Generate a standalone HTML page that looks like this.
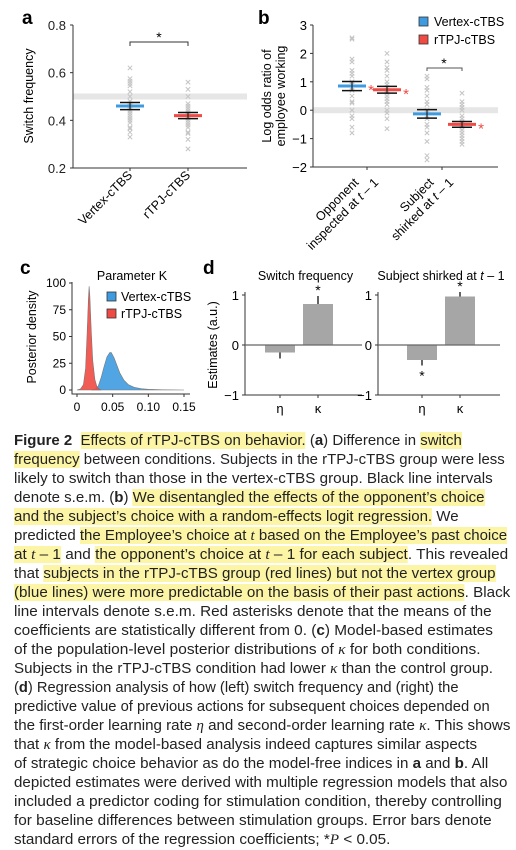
<!DOCTYPE html>
<html><head><meta charset="utf-8">
<style>
html,body{margin:0;padding:0;background:#fff;width:516px;height:848px;overflow:hidden}
svg text{font-family:"Liberation Sans",sans-serif}
#cap{position:absolute;left:0;top:0;width:516px}
.ln{position:absolute;left:14px;white-space:nowrap;font-family:"Liberation Sans",sans-serif;font-size:15px;line-height:19px;color:#222;transform-origin:0 50%}
.hl{background:#fdf5a6}
i{font-family:"Liberation Serif",serif}
</style></head><body>
<svg id="fig" width="516" height="425" style="position:absolute;left:0;top:0" xmlns="http://www.w3.org/2000/svg"></svg>
<div id="cap">
<div class="ln" data-w="448" style="top:431px"><b>Figure 2</b>&nbsp; <span class="hl">Effects of rTPJ-cTBS on behavior.</span> (<b>a</b>) Difference in <span class="hl">switch</span></div>
<div class="ln" data-w="491" style="top:450px"><span class="hl">frequency</span> between conditions. Subjects in the rTPJ-cTBS group were less</div>
<div class="ln" data-w="479" style="top:469px">likely to switch than those in the vertex-cTBS group. Black line intervals</div>
<div class="ln" data-w="471" style="top:488px">denote s.e.m. (<b>b</b>) <span class="hl">We disentangled the effects of the opponent’s choice</span></div>
<div class="ln" data-w="445" style="top:507px"><span class="hl">and the subject’s choice with a random-effects logit regression.</span> We</div>
<div class="ln" data-w="493" style="top:526px">predicted <span class="hl">the Employee’s choice at <i>t</i> based on the Employee’s past choice</span></div>
<div class="ln" data-w="494" style="top:545px"><span class="hl">at <i>t</i> – 1</span> and <span class="hl">the opponent’s choice at <i>t</i> – 1 for each subject</span>. This revealed</div>
<div class="ln" data-w="482" style="top:564px">that <span class="hl">subjects in the rTPJ-cTBS group (red lines) but not the vertex group</span></div>
<div class="ln" data-w="496" style="top:583px"><span class="hl">(blue lines) were more predictable on the basis of their past actions</span>. Black</div>
<div class="ln" data-w="478" style="top:602px">line intervals denote s.e.m. Red asterisks denote that the means of the</div>
<div class="ln" data-w="479" style="top:621px">coefficients are statistically different from 0. (<b>c</b>) Model-based estimates</div>
<div class="ln" data-w="466" style="top:640px">of the population-level posterior distributions of <i>κ</i> for both conditions.</div>
<div class="ln" data-w="479" style="top:659px">Subjects in the rTPJ-cTBS condition had lower <i>κ</i> than the control group.</div>
<div class="ln" data-w="445" style="top:678px">(<b>d</b>) Regression analysis of how (left) switch frequency and (right) the</div>
<div class="ln" data-w="476" style="top:697px">predictive value of previous actions for subsequent choices depended on</div>
<div class="ln" data-w="496" style="top:716px">the first-order learning rate <i>η</i> and second-order learning rate <i>κ</i>. This shows</div>
<div class="ln" data-w="463" style="top:735px">that <i>κ</i> from the model-based analysis indeed captures similar aspects</div>
<div class="ln" data-w="474" style="top:754px">of strategic choice behavior as do the model-free indices in <b>a</b> and <b>b</b>. All</div>
<div class="ln" data-w="493" style="top:773px">depicted estimates were derived with multiple regression models that also</div>
<div class="ln" data-w="488" style="top:792px">included a predictor coding for stimulation condition, thereby controlling</div>
<div class="ln" data-w="478" style="top:811px">for baseline differences between stimulation groups. Error bars denote</div>
<div class="ln" data-w="376" style="top:830px">standard errors of the regression coefficients; *<i>P</i> &lt; 0.05.</div>
</div>
<script>
// ---- Panel a data ----
const aCategories=["Vertex-cTBS","rTPJ-cTBS"];
const aMeans=[0.46,0.42];
const aSem=[0.015,0.013];
const aVertexPoints=[0.62,0.575,0.565,0.555,0.545,0.52,0.5,0.48,0.47,0.46,0.45,0.44,0.43,0.42,0.41,0.40,0.39,0.37,0.365,0.35,0.33];
const aRtpjPoints=[0.56,0.53,0.5,0.47,0.46,0.45,0.44,0.43,0.42,0.41,0.40,0.39,0.38,0.37,0.35,0.345,0.32,0.28];
const aTicks=[0.2,0.4,0.6,0.8];
// ---- Panel b data ----
const bCategories=["Opponent|inspected at t – 1","Subject|shirked at t – 1"];
const bVertexMeans=[0.85,-0.13];
const bRtpjMeans=[0.72,-0.5];
const bVertexSem=[0.16,0.15];
const bRtpjSem=[0.12,0.1];
const bVertexPts1=[2.55,2.5,1.8,1.7,1.4,1.3,1.2,1.0,0.9,0.8,0.7,0.5,0.3,0.25,0.0,-0.2,-0.3,-0.6,-0.8];
const bRtpjPts1=[2.0,1.7,1.5,1.4,1.2,1.0,0.9,0.8,0.7,0.6,0.5,0.4,0.3,0.2,0.0,-0.1,-0.3,-0.65];
const bVertexPts2=[1.2,1.1,0.8,0.7,0.5,0.3,0.2,0.0,-0.1,-0.2,-0.3,-0.5,-0.6,-0.8,-1.1,-1.6,-1.75];
const bRtpjPts2=[0.6,0.3,0.2,0.1,0.0,-0.2,-0.3,-0.4,-0.5,-0.6,-0.7,-0.8,-0.9,-1.0,-1.1,-1.2];
const bTicks=[-2,-1,0,1,2,3];
// ---- Panel c data ----
const cRedX=[0.0,0.005,0.009,0.012,0.014,0.016,0.017,0.018,0.02,0.022,0.025,0.028,0.031,0.034];
const cRedY=[0,1,5,20,50,85,97,88,55,28,10,3,1,0];
const cBlueX=[0.02,0.026,0.03,0.034,0.038,0.042,0.046,0.048,0.052,0.056,0.06,0.066,0.072,0.08,0.09,0.1,0.12,0.15];
const cBlueY=[0,1,4,12,22,31,35,35,30,23,16,9,5,2.5,1.2,0.6,0.2,0];
const cTicksX=[0,0.05,0.10,0.15];
const cTicksXLabels=["0","0.05","0.10","0.15"];
const cTicksY=[0,25,50,75,100];
// ---- Panel d data ----
const dParams=["η","κ"];
const dSwitchEst=[-0.15,0.82];
const dSwitchErr=[0.12,0.16];
const dShirkEst=[-0.3,0.97];
const dShirkErr=[0.11,0.09];
const dSwitchSig=[false,true];
const dShirkSig=[true,true];
const dTicks=[-1,0,1];

const svg=document.getElementById('fig');
const NS="http://www.w3.org/2000/svg";
function mk(tag,attrs,parent){const e=document.createElementNS(NS,tag);for(const k in attrs)e.setAttribute(k,attrs[k]);(parent||svg).appendChild(e);return e;}
function txt(s,attrs,parent){const e=mk('text',attrs,parent);e.textContent=s;return e;}
function cross(x,y,g){mk('path',{d:`M${x-2.2},${y-2.2}L${x+2.2},${y+2.2}M${x-2.2},${y+2.2}L${x+2.2},${y-2.2}`,stroke:'#c4c4c4','stroke-width':1},g);}
const BLUE='#3f9be0',RED='#ef4a43';

// ===== Panel a =====
let g=mk('g',{});


let t=txt('a',{x:22,y:24,'font-size':19,'font-weight':'bold'},g);

const ay=v=>168-(v-0.2)/0.6*143;
const ax=[130,188];
mk('rect',{x:73,y:ay(0.5)-3,width:174,height:6,fill:'#e6e6e6'},g);
mk('path',{d:'M73,25L73,168L247,168',stroke:'#333',fill:'none','stroke-width':1},g);
aTicks.forEach(v=>{mk('line',{x1:70,x2:73,y1:ay(v),y2:ay(v),stroke:'#333'},g);
 const l=txt(v.toFixed(1),{x:66,y:ay(v)+5,'font-size':13,'text-anchor':'end',fill:'#222'},g);
 });
const ayl=txt('Switch frequency',{transform:'translate(33,96) rotate(-90)','font-size':12.5,'text-anchor':'middle'},g);

[aVertexPoints,aRtpjPoints].forEach((pts,i)=>{pts.forEach(v=>cross(ax[i],ay(v),g));});
aCategories.forEach((c,i)=>{
 mk('line',{x1:ax[i],x2:ax[i],y1:168,y2:171,stroke:'#333'},g);
 const l=txt(c,{transform:`translate(${ax[i]+3},176) rotate(-45)`,'font-size':12.5,'text-anchor':'end'},g);
 
 const col=i==0?BLUE:RED;
 const m=mk('line',{x1:ax[i]-14,x2:ax[i]+14,y1:ay(aMeans[i]),y2:ay(aMeans[i]),stroke:col,'stroke-width':3},g);
 
 [aMeans[i]-aSem[i],aMeans[i]+aSem[i]].forEach(v=>mk('line',{x1:ax[i]-10,x2:ax[i]+10,y1:ay(v),y2:ay(v),stroke:'#111','stroke-width':1.5},g));
 mk('line',{x1:ax[i],x2:ax[i],y1:ay(aMeans[i]-aSem[i]),y2:ay(aMeans[i]+aSem[i]),stroke:'#111','stroke-width':1},g);
});
mk('path',{d:`M${ax[0]},46L${ax[0]},42L${ax[1]},42L${ax[1]},46`,stroke:'#333',fill:'none'},g);
txt('*',{x:(ax[0]+ax[1])/2,y:42,'font-size':14,'text-anchor':'middle'},g);

// ===== Panel b =====
g=mk('g',{});


t=txt('b',{x:258,y:24,'font-size':19,'font-weight':'bold'},g);

const by=v=>167-(v+2)/5*142;
const bx=[367,442];
const bOff=[-15,20];
mk('rect',{x:313,y:by(0)-3,width:185,height:6,fill:'#e6e6e6'},g);
mk('path',{d:'M313,25L313,167L498,167',stroke:'#333',fill:'none'},g);
bTicks.forEach(v=>{mk('line',{x1:310,x2:313,y1:by(v),y2:by(v),stroke:'#333'},g);
 const l=txt(v<0?'−'+(-v):String(v),{x:307,y:by(v)+5,'font-size':13,'text-anchor':'end'},g);
 });
const byl=txt('',{transform:'translate(272,96) rotate(-90)','font-size':12.5,'text-anchor':'middle'},g);

mk('tspan',{x:0,dy:-1},byl).textContent='Log odds ratio of';
mk('tspan',{x:0,dy:14},byl).textContent='employee working';
const bPts=[[bVertexPts1,bRtpjPts1],[bVertexPts2,bRtpjPts2]];
bCategories.forEach((c,i)=>{
 mk('line',{x1:bx[i],x2:bx[i],y1:167,y2:170,stroke:'#333'},g);
 const parts=c.split('|');
 const l=mk('text',{transform:`translate(${bx[i]+3},174) rotate(-45)`,'font-size':12.5,'text-anchor':'end'},g);
 
 mk('tspan',{x:-14,y:-1},l).textContent=parts[0];
 const t2=mk('tspan',{x:0,y:13},l);
 t2.innerHTML=parts[1].replace(' t ',' <tspan font-style="italic">t</tspan> ');
 [[bVertexMeans,bVertexSem,BLUE],[bRtpjMeans,bRtpjSem,RED]].forEach((s,j)=>{
  const cx=bx[i]+bOff[j];
  bPts[i][j].forEach(v=>cross(cx,by(v),g));
  const m=mk('line',{x1:cx-14,x2:cx+14,y1:by(s[0][i]),y2:by(s[0][i]),stroke:s[2],'stroke-width':3},g);
  
  [s[0][i]-s[1][i],s[0][i]+s[1][i]].forEach(v=>mk('line',{x1:cx-10,x2:cx+10,y1:by(v),y2:by(v),stroke:'#111','stroke-width':1.5},g));
  mk('line',{x1:cx,x2:cx,y1:by(s[0][i]-s[1][i]),y2:by(s[0][i]+s[1][i]),stroke:'#111'},g);
 });
});
[[bx[0]+bOff[0],bVertexMeans[0]],[bx[0]+bOff[1],bRtpjMeans[0]],[bx[1]+bOff[1],bRtpjMeans[1]]].forEach(p=>{
 txt('*',{x:p[0]+19,y:by(p[1])+9,'font-size':15,fill:RED,'text-anchor':'middle'},g);});
mk('path',{d:`M${bx[1]+bOff[0]},71L${bx[1]+bOff[0]},68L${bx[1]+bOff[1]},68L${bx[1]+bOff[1]},71`,stroke:'#555',fill:'none'},g);
txt('*',{x:bx[1]+2,y:68,'font-size':14,'text-anchor':'middle'},g);
[['Vertex-cTBS',BLUE,22],['rTPJ-cTBS',RED,40]].forEach(L=>{
 const lg=mk('g',{},g);
 mk('rect',{x:419,y:L[2]-5,width:9,height:9,fill:L[1],stroke:'#333','stroke-width':0.8},lg);
 txt(L[0],{x:434,y:L[2]+4,'font-size':12.5},lg);});

// ===== Panel c =====
g=mk('g',{});


t=txt('c',{x:20,y:274,'font-size':19,'font-weight':'bold'},g);

const cx_=v=>77+v/0.15*107, cy_=v=>390-v/100*107;
mk('path',{d:'M72,282L72,394L190,394',stroke:'#333',fill:'none'},g);
cTicksY.forEach(v=>{mk('line',{x1:69,x2:72,y1:cy_(v),y2:cy_(v),stroke:'#333'},g);
 const l=txt(String(v),{x:66,y:cy_(v)+4,'font-size':12,'text-anchor':'end'},g);
 });
cTicksX.forEach((v,i)=>{mk('line',{x1:cx_(v),x2:cx_(v),y1:394,y2:397,stroke:'#333'},g);
 const l=txt(cTicksXLabels[i],{x:cx_(v),y:411,'font-size':12,'text-anchor':'middle'},g);
 });
const cyl=txt('Posterior density',{transform:'translate(36,337) rotate(-90)','font-size':12.5,'text-anchor':'middle'},g);

txt('Parameter K',{x:132,y:280,'font-size':12.5,'text-anchor':'middle'},g);
function area(X,Y,col,name){
 let d='M'+cx_(X[0])+','+cy_(0);X.forEach((x,i)=>d+='L'+cx_(x)+','+cy_(Y[i]));d+='L'+cx_(X[X.length-1])+','+cy_(0)+'Z';
 const p=mk('path',{d:d,fill:col,stroke:'#777','stroke-width':0.6,'fill-opacity':0.9},g);
 }
area(cBlueX,cBlueY,BLUE,'c-vertex-density');
area(cRedX,cRedY,RED,'c-rtpj-density');
[['Vertex-cTBS',BLUE,297],['rTPJ-cTBS',RED,314]].forEach(L=>{
 const lg=mk('g',{},g);
 mk('rect',{x:107,y:L[2]-5,width:9,height:9,fill:L[1],stroke:'#333','stroke-width':0.8},lg);
 txt(L[0],{x:121,y:L[2]+4,'font-size':12.5},lg);});

// ===== Panel d =====
g=mk('g',{});


t=txt('d',{x:203,y:274,'font-size':19,'font-weight':'bold'},g);

const dy=v=>345-v*50;
const dyl=txt('Estimates (a.u.)',{transform:'translate(217,345) rotate(-90)','font-size':12.5,'text-anchor':'middle'},g);

function sub(ax0,ax1,xs,est,err,sig,title,name){
 const sg=mk('g',{},g);
 const tt=txt('',{x:(ax0+ax1)/2+2,y:280,'font-size':12.5,'text-anchor':'middle'},sg);tt.innerHTML=title;
 mk('path',{d:`M${ax0},${dy(1)-3}L${ax0},${dy(-1)}L${ax1},${dy(-1)}`,stroke:'#333',fill:'none'},sg);
 dTicks.forEach(v=>{mk('line',{x1:ax0-3,x2:ax0,y1:dy(v),y2:dy(v),stroke:'#333'},sg);
  const l=txt(v<0?'−'+(-v):String(v),{x:ax0-6,y:dy(v)+5,'font-size':13,'text-anchor':'end'},sg);
  });
 dParams.forEach((p,i)=>{
  const x=xs[i],v=est[i];
  const b=mk('rect',{x:x-15,y:Math.min(dy(v),dy(0)),width:30,height:Math.abs(dy(v)-dy(0)),fill:'#a6a6a6'},sg);
  
  const tip=v+Math.sign(v)*err[i];
  mk('line',{x1:x,x2:x,y1:dy(v),y2:dy(tip),stroke:'#111','stroke-width':1.3},sg);
  if(sig[i]) txt('*',{x:x,y:v>0?dy(tip)-1:dy(tip)+15,'font-size':14,'text-anchor':'middle'},sg);
  mk('line',{x1:x,x2:x,y1:dy(-1),y2:dy(-1)+3,stroke:'#333'},sg);
  const l=txt(p,{x:x,y:dy(-1)+18,'font-size':13,'text-anchor':'middle','font-family':'Liberation Serif'},sg);
  
 });
 mk('line',{x1:ax0,x2:ax1,y1:dy(0),y2:dy(0),stroke:'#666','stroke-width':1.2},sg);
}
sub(245,362,[280,318],dSwitchEst,dSwitchErr,dSwitchSig,'Switch frequency','d-switch-frequency');
sub(378,500,[422,460],dShirkEst,dShirkErr,dShirkSig,'Subject shirked at <tspan font-style="italic">t</tspan> – 1','d-subject-shirked');

// fit caption lines
document.querySelectorAll('.ln').forEach((el,i)=>{
 
 
 const w=el.scrollWidth,target=+el.dataset.w;
 el.style.transform='scaleX('+(target/w)+')';
});
</script>
</body></html>
